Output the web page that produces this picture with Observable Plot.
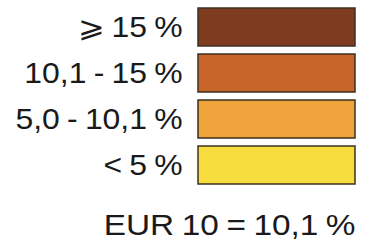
<!DOCTYPE html>
<html>
<head>
<meta charset="utf-8">
<script src="https://cdn.jsdelivr.net/npm/d3@7"></script>
<script src="https://cdn.jsdelivr.net/npm/@observablehq/plot@0.6"></script>
<style>
  html, body { margin: 0; padding: 0; background: #ffffff; }
</style>
</head>
<body>
<div id="chart"></div>
<script>
const labels = ["⩾ 15 %", "10,1 - 15 %", "5,0 - 10,1 %", "< 5 %"];
const colors = ["#7f3b1d", "#c8652a", "#eea43b", "#f7dc3e"];
const note = "EUR 10 = 10,1 %";

const data = labels.map((label, i) => ({label, color: colors[i]}));

const chart = Plot.plot({
  width: 368,
  height: 248,
  marginLeft: 198,
  marginRight: 13,
  marginTop: 7,
  marginBottom: 63,
  style: {
    fontFamily: "'Liberation Sans', Arial, sans-serif",
    fontSize: "29px",
    wordSpacing: "-1.5px",
    color: "#1a1a1a",
    background: "#ffffff"
  },
  x: {axis: null},
  y: {domain: labels, paddingInner: 0.17, paddingOuter: 0, label: null},
  color: {type: "identity"},
  marks: [
    Plot.cell(data, {y: "label", fill: "color", stroke: "#3b3022", strokeWidth: 1.5, inset: 0}),
    Plot.axisY({tickSize: 0, tickPadding: 16, fontSize: 29, label: null}),
    Plot.text([note], {text: d => d, frameAnchor: "bottom-right", textAnchor: "end", lineAnchor: "bottom", dy: 49, dx: 0, fontSize: 29, fill: "#1a1a1a"})
  ]
});
// widen glyphs horizontally (the reference type is set wide), anchored at each label's right edge
d3.select(chart).selectAll("text").each(function() {
  const x = +(this.getAttribute("x") || 0);
  const t = this.getAttribute("transform") || "";
  const sx = this.textContent.startsWith("EUR") ? 1.15 : 1.1;
  this.setAttribute("transform", `${t} translate(${x},0) scale(${sx},1) translate(${-x},0)`);
});
document.getElementById("chart").appendChild(chart);
</script>
</body>
</html>
